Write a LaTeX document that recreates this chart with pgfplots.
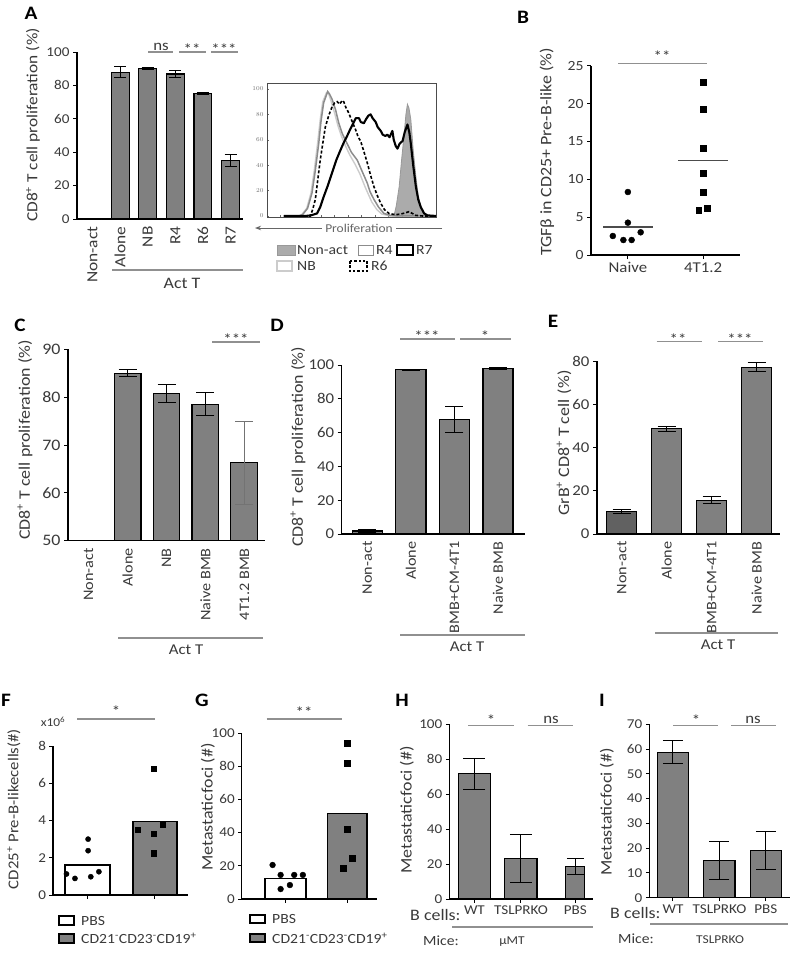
\documentclass[border=0pt]{standalone}
\usepackage{fontspec}
\setmainfont{Carlito}[FakeStretch=1.12]
\usepackage{pgfplots}
\pgfplotsset{compat=1.18}
\usetikzlibrary{arrows.meta}
\definecolor{txt}{HTML}{3A3A3A}
\definecolor{barg}{HTML}{808080}
\definecolor{sigc}{HTML}{909090}
\newcommand\fs[1]{\fontsize{#1}{#1}\selectfont}
\newcommand\sups[1]{\textsuperscript{#1}}
\pgfplotsset{
 pan/.style={scale only axis, anchor=south west, axis lines*=left,
   axis line style={black, line width=1.1pt},
   every tick/.style={black, line width=1pt},
   tick align=outside, major tick length=4pt,
   /pgf/number format/assume math mode=true,
   yticklabel style={font=\fs{13.5}, text=txt},
   xticklabel style={font=\fs{15}, text=txt},
 },
 rotx/.style={xtick style={draw=none}, xticklabel style={rotate=90, anchor=east}},
 bars/.style={ybar, bar shift=0pt, bar width=#1, fill=barg, draw=black, line width=1.1pt},
 eb/.style={/pgfplots/error bars/y dir=both, /pgfplots/error bars/y explicit,
   /pgfplots/error bars/error bar style={line width=1pt, black},
   /pgfplots/error bars/error mark options={rotate=90, mark size=#1, line width=1pt, black}},
}
\begin{document}
\begin{tikzpicture}
\path[use as bounding box, fill=white] (0pt,0pt) rectangle (800pt,-956pt);

% ---------------- Panel A bars
\begin{axis}[pan, rotx, at={(77pt,-219pt)}, width=166pt, height=167pt,
  xmin=-0.56, xmax=5.45, ymin=0, ymax=100, ytick={0,20,...,100},
  xtick={0,...,5}, xticklabels={Non-act,Alone,NB,R4,R6,R7}, xticklabel style={font=\fs{15.5}}]
\addplot[bars=0.65, eb=6pt] coordinates {(0,0) +- (0,0) (1,87.8) +- (0,3.3) (2,90.0) +- (0,0.7) (3,86.8) +- (0,2) (4,75.3) +- (0,0.7) (5,35.1) +- (0,3.8)};
\end{axis}

% ---------------- Panel A histogram inset
\begin{axis}[scale only axis, anchor=south west, at={(267pt,-217pt)}, width=169pt, height=134pt,
  xmin=0, xmax=100, ymin=-0.8, ymax=104.7,
  axis line style={draw=black!70, line width=0.7pt},
  ytick={0,20,...,100}, minor y tick num=3, ytick pos=left,
  yticklabel style={font=\fs{6}, text=black!55},
  xtick={8,16,...,96}, xticklabels={}, xtick pos=bottom,
  tick style={black!60, line width=0.5pt}, major tick length=2pt, minor tick length=1.2pt]
\addplot[fill=black!33, draw=black!40, line width=0.8pt] coordinates {(72,0) (75.2,0.5) (76.5,8) (78.2,23) (79.7,45) (81.2,65) (82.2,80) (83.1,88) (84,85) (85.1,76) (86.5,52) (88.1,31) (89.5,16) (91,7) (92.5,2) (94,0)} \closedcycle;
\addplot[draw=black!20, line width=1.4pt] coordinates {(10,0) (18.5,0) (20.5,1) (23.5,6) (26,18) (28,36) (30,58) (31.5,76) (33,90) (35.2,97) (36.5,96) (38,90) (40,81) (42,71) (44,63) (46.5,55) (49,48) (52,41) (55,33) (58,23) (60,17) (62,11) (65,5) (68,1.5) (72,0.3) (78,0) (100,0)};
\addplot[draw=black!45, line width=1.5pt] coordinates {(10,0) (19,0) (21,1) (24,6) (26.6,18) (28.5,35) (30.6,57) (32,75) (33.5,89) (35.9,98) (37,96) (38.5,92) (40.5,84) (42.5,73) (44.5,65) (47.4,57) (50,50) (53.4,44) (56,36) (59.3,26) (61,19) (63.3,13) (66,7) (69.2,2) (73,0.5) (78,0) (100,0)};
\addplot[draw=black, line width=1.6pt, dash pattern=on 3pt off 2pt] coordinates {(10,0) (25.6,0) (27,5) (28.6,13) (30,28) (31.5,44) (33,57) (34.5,70) (36.5,79) (38.5,86) (40,89) (41.5,90) (43,88) (44.5,91) (45.4,90) (46.5,86) (48.4,81) (50.5,74) (52.4,68) (54,62) (55.4,59) (57.5,50) (59.3,42) (61.3,32) (63.3,23) (65.3,16) (67.3,10) (69.5,5) (72.2,2) (76,1) (79,1.5) (82,2.5) (84,3.4) (86,2) (88,0.5) (92,0) (100,0)};
\addplot[draw=black, line width=2.1pt, line join=round] coordinates {(10,0) (22.6,0) (26,0.5) (29.6,2) (31.5,7) (33.5,15) (36,24) (38.5,34) (41,44) (43.5,52) (45.5,58) (47.4,63) (49.5,69) (51.4,74) (52.5,77) (54.4,77) (55.5,74) (57.3,73) (58.5,76) (60,79) (61.3,80) (62.5,77) (64.3,74) (65.5,70) (67.3,67) (68.5,64) (70,63) (71.2,64) (72.5,62) (74.2,67) (75,60) (76.2,55) (77.2,53) (78.5,57) (80.2,59) (81.5,66) (83.1,72) (84.2,66) (85.1,57) (86.5,40) (88.1,23) (89.5,13) (91,7) (93,2) (95,0.5) (100,0)};
\end{axis}

% ---------------- Panel B
\begin{axis}[pan, at={(591pt,-255pt)}, width=149pt, height=189.3pt,
  xmin=0.51, xmax=2.49, ymin=0, ymax=25, ytick={0,5,...,25},
  yticklabel style={font=\fs{14}},
  xtick={1,2}, xticklabels={Naive,4T1.2}]
\addplot[only marks, mark=*, mark size=3pt, black] coordinates {(1,8.32) (1,4.27) (0.80,2.51) (0.94,1.98) (1.05,1.98) (1.17,3.0)};
\addplot[only marks, mark=square*, mark size=2.9pt, black] coordinates {(2,22.8) (2,19.3) (2,14.1) (2,10.8) (2,8.3) (1.94,5.9) (2.05,6.2)};
\addplot[draw=black!70, line width=1.2pt] coordinates {(0.67,3.7) (1.33,3.7)};
\addplot[draw=black!70, line width=1.2pt] coordinates {(1.67,12.5) (2.33,12.5)};
\end{axis}

% ---------------- Panel C
\begin{axis}[pan, rotx, at={(68pt,-540.7pt)}, width=197pt, height=191.4pt,
  xmin=-0.53, xmax=4.53, ymin=50, ymax=90, ytick={50,60,...,90},
  yticklabel style={font=\fs{16}}, xticklabel style={font=\fs{14.5}},
  xtick={0,...,4}, xticklabels={Non-act,Alone,NB,Naive BMB,4T1.2 BMB}]
\addplot[bars=0.69, eb=9pt] coordinates {(0,0) (1,85.0) +- (0,0.7) (2,80.7) +- (0,1.9) (3,78.5) +- (0,2.4)};
\addplot[bars=0.69, eb=9pt, /pgfplots/error bars/error bar style={line width=1pt, black!55}, /pgfplots/error bars/error mark options={rotate=90, mark size=9pt, line width=1pt, black!55}] coordinates {(4,66.3) +- (0,8.7)};
\end{axis}

% ---------------- Panel D
\begin{axis}[pan, rotx, at={(341.7pt,-534pt)}, width=183.3pt, height=169pt,
  xmin=-0.59, xmax=3.62, ymin=0, ymax=100, ytick={0,20,...,100},
  yticklabel style={font=\fs{15}}, xticklabel style={font=\fs{14.5}},
  xtick={0,...,3}, xticklabels={Non-act,Alone,BMB+CM-4T1,Naive BMB}]
\addplot[bars=0.69, eb=9pt] coordinates {(0,1.8) +- (0,1) (1,97.2) +- (0,0.3) (2,67.8) +- (0,7.5) (3,98.0) +- (0,0.4)};
\end{axis}

% ---------------- Panel E
\begin{axis}[pan, rotx, at={(597pt,-534pt)}, width=183pt, height=173pt,
  xmin=-0.55, xmax=3.52, ymin=0, ymax=80, ytick={0,20,...,80},
  yticklabel style={font=\fs{15}}, xticklabel style={font=\fs{14.5}},
  xtick={0,...,3}, xticklabels={Non-act,Alone,BMB+CM-4T1,Naive BMB}]
\addplot[bars=0.67, fill=black!62, eb=9pt] coordinates {(0,10.3) +- (0,0.9)};
\addplot[bars=0.67, eb=9pt] coordinates {(1,48.6) +- (0,1.3) (2,15.7) +- (0,1.5) (3,77.1) +- (0,2.1)};
\end{axis}

% ---------------- Panel F
\begin{axis}[pan, at={(53pt,-895pt)}, width=135pt, height=149pt,
  xmin=0.49, xmax=2.49, ymin=0, ymax=8, ytick={0,2,...,8},
  xtick={1,2}, xticklabels={\empty,\empty}, major tick length=3.5pt]
\addplot[bars=0.667, fill=white, line width=1.4pt] coordinates {(1,1.61)};
\addplot[bars=0.652, fill=barg, line width=1.4pt] coordinates {(2,3.94)};
\addplot[only marks, mark=*, mark size=2.6pt, black] coordinates {(1.01,3.0) (1.01,2.38) (0.69,1.13) (0.815,0.89) (1.05,0.98) (1.17,1.25)};
\addplot[only marks, mark=square*, mark size=2.6pt, black] coordinates {(1.985,6.8) (1.74,3.49) (2.11,3.76) (1.985,3.31) (1.985,2.24)};
\end{axis}

% ---------------- Panel G
\begin{axis}[pan, at={(241.7pt,-899pt)}, width=135.3pt, height=166pt,
  xmin=0.29, xmax=2.48, ymin=0, ymax=100, ytick={0,20,...,100},
  xtick={1,2}, xticklabels={\empty,\empty}, major tick length=3.5pt]
\addplot[bars=0.66, fill=white, line width=1.4pt] coordinates {(1,12.4)};
\addplot[bars=0.64, fill=barg, line width=1.4pt] coordinates {(2,51.6)};
\addplot[only marks, mark=*, mark size=2.9pt, black] coordinates {(0.79,20.5) (0.92,14.5) (1.14,14.5) (1.28,14.5) (0.92,6.0) (1.07,8.4)};
\addplot[only marks, mark=square*, mark size=3.1pt, black] coordinates {(2,93.8) (2,81.7) (2,42.2) (2.08,24.5) (1.93,18.5)};
\end{axis}

% ---------------- Panel H
\begin{axis}[pan, at={(449.3pt,-899pt)}, width=143.7pt, height=174.7pt,
  xmin=-0.54, xmax=2.55, ymin=0, ymax=100, ytick={0,20,...,100},
  xtick={0,1,2.17}, xticklabels={WT,TSLPRKO,PBS}, xticklabel style={font=\fs{13.5}},
  major tick length=3.5pt]
\addplot[bars=0.69, eb=11pt] coordinates {(0,71.6) +- (0,8.9) (1,23.0) +- (0,13.7)};
\addplot[bars=0.41, eb=8.5pt] coordinates {(2.17,18.5) +- (0,4.5)};
\end{axis}

% ---------------- Panel I
\begin{axis}[pan, at={(649.3pt,-897.7pt)}, width=140.7pt, height=173.4pt,
  xmin=-0.51, xmax=2.52, ymin=0, ymax=70, ytick={0,10,...,70},
  xtick={0,1,2}, xticklabels={WT,TSLPRKO,PBS}, xticklabel style={font=\fs{13.5}},
  major tick length=3.5pt]
\addplot[bars=0.67, eb=10pt] coordinates {(0,58.8) +- (0,4.7) (1,14.9) +- (0,7.7) (2,19.1) +- (0,7.7)};
\end{axis}

% ================= annotations (pixel coordinates)
\begin{scope}[x=1pt, y=-1pt, every node/.style={text=txt, inner sep=0pt}]
% panel letters
\foreach \l/\x/\y in {A/31/13, B/523/17, C/20/325, D/277/325, E/553/321, F/6/700, G/202/700, H/402/700, I/602/700}
  \node[font=\bfseries\fs{19}, text=black] at (\x,\y) {\l};
% y labels
\node[rotate=90, font=\fs{15.5}] at (33,125) {CD8\sups{+} T cell proliferation (\%)};
\node[rotate=90, font=\fs{16}] at (547,152) {TGFβ in CD25+ Pre-B-like (\%)};
\node[rotate=90, font=\fs{16}] at (25,440) {CD8\sups{+} T cell proliferation (\%)};
\node[rotate=90, font=\fs{16}] at (298,447) {CD8\sups{+} T cell proliferation (\%)};
\node[rotate=90, font=\fs{16}] at (564,443) {GrB\sups{+} CD8\sups{+} T cell\,\,(\%)};
\node[rotate=90, font=\fs{15}] at (14,809) {CD25\sups{+} Pre-B-likecells(\#)};
\node[rotate=90, font=\fs{16}] at (208,807) {Metastaticfoci (\#)};
\node[rotate=90, font=\fs{16}] at (407,810) {Metastaticfoci (\#)};
\node[rotate=90, font=\fs{16}] at (607,812) {Metastaticfoci (\#)};
% significance lines
\begin{scope}[draw=sigc, line width=1.2pt]
\draw (148,52) -- (173,52); \draw (179,52) -- (206,52); \draw (211,52) -- (238,52);
\draw (618,63.3) -- (707,63.3);
\draw (212,342) -- (260,342);
\draw (400,339) -- (455,339); \draw (460,339) -- (511,339);
\draw (656.7,341.7) -- (701.7,341.7); \draw (718,341.7) -- (763,341.7);
\draw (77,719) -- (155,719);
\draw (266.7,719) -- (341.7,719);
\draw (468,725.7) -- (514,725.7); \draw (527.7,725.7) -- (573.3,725.7);
\draw (673,725.7) -- (718,725.7); \draw (731,725.7) -- (775.7,725.7);
% Act T lines
\draw (112,270) -- (243,270);
\draw (118,638) -- (263,638);
\draw (400,635) -- (525,635);
\draw (655,633) -- (778,633);
\draw (452,927) -- (593,927);
\draw (650,924) -- (788,924);
\end{scope}
\begin{scope}[every node/.style={text=txt, inner sep=0pt, anchor=base, font=\fs{15}}]
\node at (161,50) {ns}; \node at (192,54) {**}; \node at (224,54) {***};
\node at (662,61.5) {**};
\node at (236,344.5) {***};
\node at (427,341.5) {***}; \node at (485,341.5) {*};
\node at (678,344) {**}; \node at (740,344) {***};
\node at (116,716.5) {*};
\node at (304,717) {**};
\node at (491,725) {*}; \node at (551,723) {ns};
\node at (696,725) {*}; \node at (753,723) {ns};
\end{scope}
% Act T texts
\node[font=\fs{16}] at (182,283) {Act T};
\node[font=\fs{15}] at (186,650) {Act T};
\node[font=\fs{15}] at (467,647) {Act T};
\node[font=\fs{15}] at (718,645) {Act T};
% H / I bottom labels
\node[font=\fs{16}, anchor=west] at (410,915) {B cells:};
\node[font=\fs{14}, anchor=west] at (423,941) {Mice:};
\node[font=\fs{12}] at (512,942) {µMT};
\node[font=\fs{16}, anchor=west] at (610,913) {B cells:};
\node[font=\fs{14}, anchor=west] at (618,939) {Mice:};
\node[font=\fs{12}] at (720,940) {TSLPRKO};
% F / G legends
\draw[black, line width=1.4pt, fill=white] (59,916) rectangle (74,925);
\node[font=\fs{14}, anchor=west] at (81,920.5) {PBS};
\draw[black, line width=1.4pt, fill=barg] (59,934) rectangle (74,943);
\node[font=\fs{14}, anchor=west] at (81,938.5) {CD21\sups{-}CD23\sups{-}CD19\sups{+}};
\draw[black, line width=1.4pt, fill=white] (250,915) rectangle (265,923);
\node[font=\fs{14}, anchor=west] at (272,919) {PBS};
\draw[black, line width=1.4pt, fill=barg] (250,934) rectangle (265,942);
\node[font=\fs{14}, anchor=west] at (272,938) {CD21\sups{-}CD23\sups{-}CD19\sups{+}};
\node[font=\fs{12}] at (53,722) {x10\sups{6}};
% histogram inset extras
\draw[black!60, line width=1pt, -{Stealth[length=6pt]}] (442,228) -- (255,228);
\node[font=\fs{12}, fill=white, inner xsep=3pt, inner ysep=1pt, text=black!60] at (359,228) {Proliferation};
\draw[draw=black!40, fill=black!33, line width=0.8pt] (277,245) rectangle (295,255);
\node[font=\fs{14}, anchor=west] at (297,250) {Non-act};
\draw[draw=black!45, line width=1pt] (358,245) rectangle (373,255);
\node[font=\fs{14}, anchor=west] at (376,250) {R4};
\draw[draw=black, line width=1.8pt] (397,245) rectangle (413,255);
\node[font=\fs{14}, anchor=west] at (416,250) {R7};
\draw[draw=black!20, line width=1.2pt] (277,261) rectangle (292,271);
\node[font=\fs{14}, anchor=west] at (297,266) {NB};
\draw[draw=black, line width=1.2pt, dash pattern=on 2.5pt off 1.8pt] (350,261) rectangle (367,271);
\node[font=\fs{14}, anchor=west] at (371,266) {R6};
\end{scope}
\end{tikzpicture}
\end{document}
